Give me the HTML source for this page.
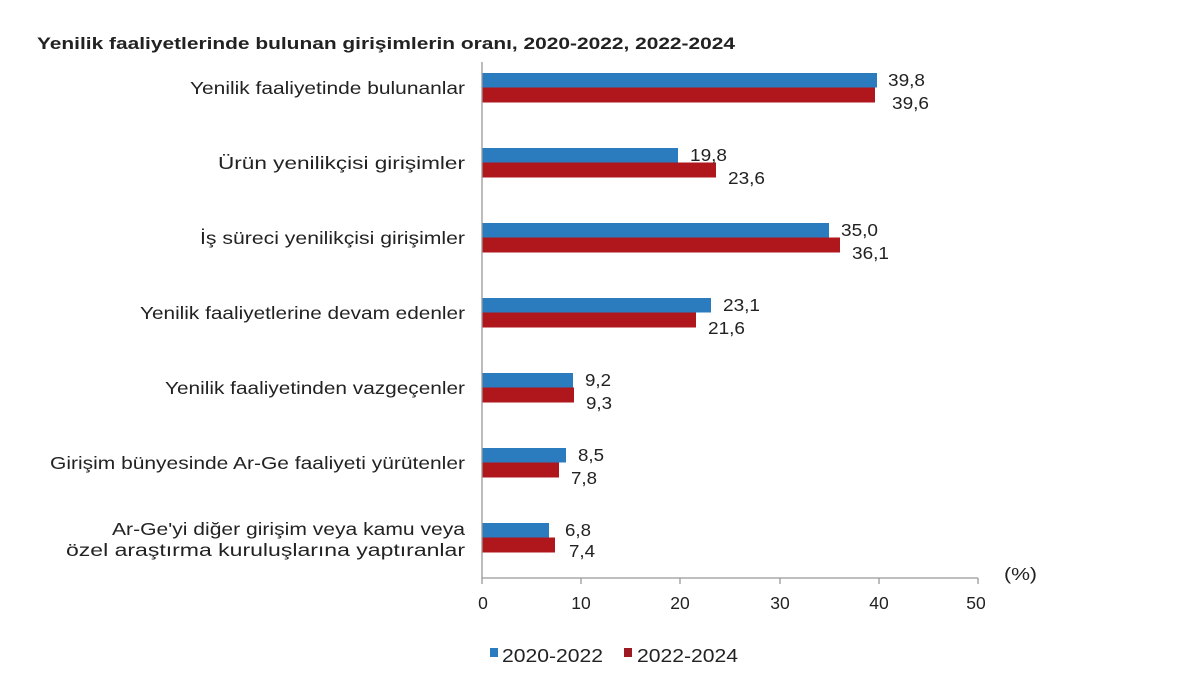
<!DOCTYPE html>
<html><head><meta charset="utf-8"><style>
body{margin:0;background:#fff;}
svg text{font-family:"Liberation Sans",sans-serif;fill:#222;}
</style></head><body>
<svg width="1200" height="679" viewBox="0 0 1200 679" xmlns="http://www.w3.org/2000/svg">
<rect width="1200" height="679" fill="#fff"/>
<text x="37" y="49" font-size="17" font-weight="bold" textLength="698" lengthAdjust="spacingAndGlyphs">Yenilik faaliyetlerinde bulunan girişimlerin oranı, 2020-2022, 2022-2024</text>
<g font-size="17.5" text-anchor="end">
<text x="465" y="94" textLength="275" lengthAdjust="spacingAndGlyphs">Yenilik faaliyetinde bulunanlar</text>
<text x="465" y="169" textLength="247" lengthAdjust="spacingAndGlyphs">Ürün yenilikçisi girişimler</text>
<text x="465" y="244" textLength="265" lengthAdjust="spacingAndGlyphs">İş süreci yenilikçisi girişimler</text>
<text x="465" y="319" textLength="325" lengthAdjust="spacingAndGlyphs">Yenilik faaliyetlerine devam edenler</text>
<text x="465" y="394" textLength="300" lengthAdjust="spacingAndGlyphs">Yenilik faaliyetinden vazgeçenler</text>
<text x="465" y="469" textLength="415" lengthAdjust="spacingAndGlyphs">Girişim bünyesinde Ar-Ge faaliyeti yürütenler</text>
<text x="465" y="535" textLength="353" lengthAdjust="spacingAndGlyphs">Ar-Ge'yi diğer girişim veya kamu veya</text>
<text x="465" y="556" textLength="399" lengthAdjust="spacingAndGlyphs">özel araştırma kuruluşlarına yaptıranlar</text>
</g>
<g>
<rect x="482" y="73" width="395" height="14.5" fill="#2b7bbf"/>
<rect x="482" y="87.5" width="393" height="15" fill="#b0171c"/>
<rect x="482" y="148" width="196" height="14.5" fill="#2b7bbf"/>
<rect x="482" y="162.5" width="234" height="15" fill="#b0171c"/>
<rect x="482" y="223" width="347" height="14.5" fill="#2b7bbf"/>
<rect x="482" y="237.5" width="358" height="15" fill="#b0171c"/>
<rect x="482" y="298" width="229" height="14.5" fill="#2b7bbf"/>
<rect x="482" y="312.5" width="214" height="15" fill="#b0171c"/>
<rect x="482" y="373" width="91" height="14.5" fill="#2b7bbf"/>
<rect x="482" y="387.5" width="92" height="15" fill="#b0171c"/>
<rect x="482" y="448" width="84" height="14.5" fill="#2b7bbf"/>
<rect x="482" y="462.5" width="77" height="15" fill="#b0171c"/>
<rect x="482" y="523" width="67" height="14.5" fill="#2b7bbf"/>
<rect x="482" y="537.5" width="73" height="15" fill="#b0171c"/>
</g>
<g font-size="17.5">
<text x="888" y="86" textLength="37" lengthAdjust="spacingAndGlyphs">39,8</text><text x="892" y="109" textLength="37" lengthAdjust="spacingAndGlyphs">39,6</text>
<text x="690" y="161" textLength="37" lengthAdjust="spacingAndGlyphs">19,8</text><text x="728" y="184" textLength="37" lengthAdjust="spacingAndGlyphs">23,6</text>
<text x="841" y="236" textLength="37" lengthAdjust="spacingAndGlyphs">35,0</text><text x="852" y="259" textLength="37" lengthAdjust="spacingAndGlyphs">36,1</text>
<text x="723" y="311" textLength="37" lengthAdjust="spacingAndGlyphs">23,1</text><text x="708" y="334" textLength="37" lengthAdjust="spacingAndGlyphs">21,6</text>
<text x="585" y="386" textLength="26" lengthAdjust="spacingAndGlyphs">9,2</text><text x="586" y="409" textLength="26" lengthAdjust="spacingAndGlyphs">9,3</text>
<text x="578" y="461" textLength="26" lengthAdjust="spacingAndGlyphs">8,5</text><text x="571" y="484" textLength="26" lengthAdjust="spacingAndGlyphs">7,8</text>
<text x="565" y="536" textLength="26" lengthAdjust="spacingAndGlyphs">6,8</text><text x="569" y="557" textLength="26" lengthAdjust="spacingAndGlyphs">7,4</text>
</g>
<g stroke="#999" stroke-width="1.3">
<line x1="482" y1="62" x2="482" y2="584"/>
<line x1="482" y1="578" x2="978" y2="578"/>
<line x1="581" y1="578" x2="581" y2="584"/>
<line x1="680" y1="578" x2="680" y2="584"/>
<line x1="780" y1="578" x2="780" y2="584"/>
<line x1="879" y1="578" x2="879" y2="584"/>
<line x1="978" y1="578" x2="978" y2="584"/>
</g>
<g font-size="17.5" text-anchor="middle">
<text x="483" y="609">0</text><text x="581" y="609">10</text><text x="680" y="609">20</text>
<text x="780" y="609">30</text><text x="879" y="609">40</text><text x="976" y="609">50</text>
</g>
<text x="1004" y="580" font-size="17.5" textLength="33" lengthAdjust="spacingAndGlyphs">(%)</text>
<rect x="490" y="648" width="8" height="9" fill="#2b7bbf"/>
<text x="502" y="662" font-size="18" textLength="101" lengthAdjust="spacingAndGlyphs">2020-2022</text>
<rect x="624" y="648" width="8" height="9" fill="#9e1a22"/>
<text x="637" y="662" font-size="18" textLength="101" lengthAdjust="spacingAndGlyphs">2022-2024</text>
</svg>
</body></html>
